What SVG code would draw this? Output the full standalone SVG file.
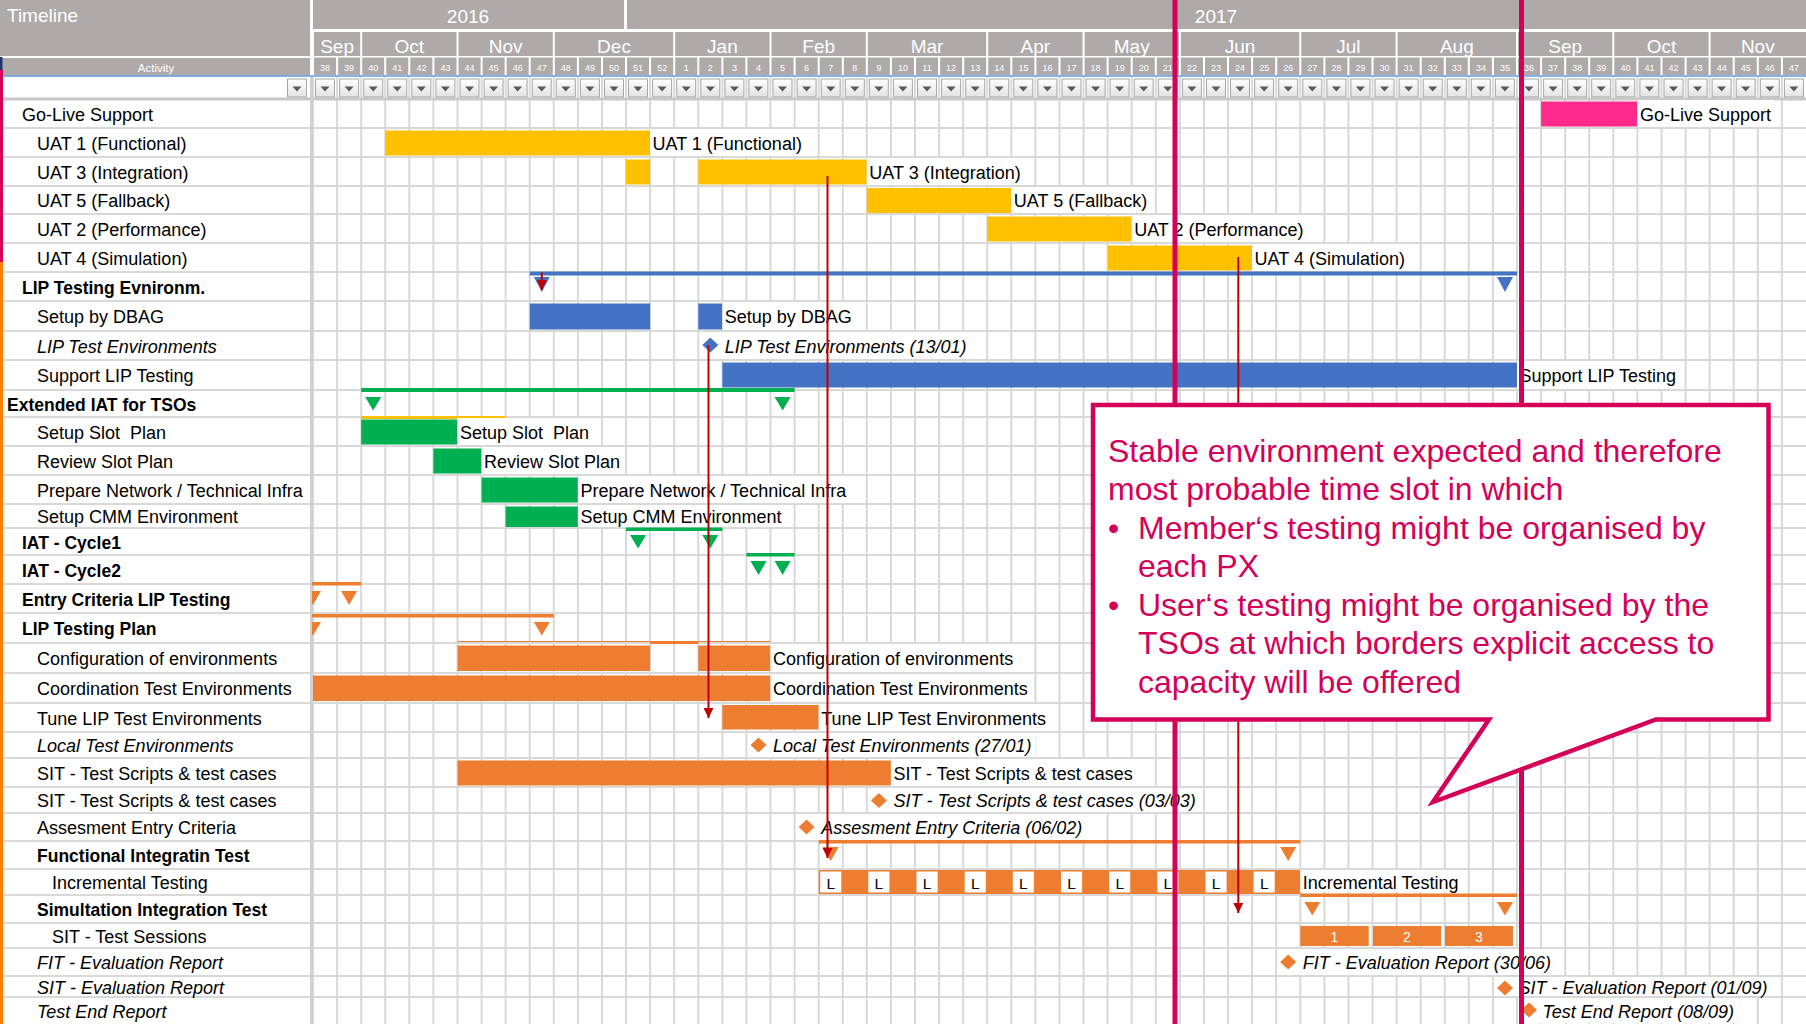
<svg xmlns="http://www.w3.org/2000/svg" xmlns:xlink="http://www.w3.org/1999/xlink" width="1806" height="1024" viewBox="0 0 1806 1024">
<style>
text{font-family:"Liberation Sans",Arial,sans-serif;}
.t{font-size:18px;fill:#000;}
.b{font-size:17.5px;font-weight:bold;fill:#000;}
.i{font-style:italic;}
.hdr{fill:#AEAAAA;}
.ht{fill:#fff;font-size:19px;}
.wk{fill:#fff;font-size:9px;text-anchor:middle;}
.mo{fill:#fff;font-size:19px;text-anchor:middle;}
.yel{fill:#FFC000;}
.blu{fill:#4472C4;}
.grn{fill:#00B050;}
.org{fill:#ED7D31;}
.pnk{fill:#FF2B8C;}
.bg{fill:#fff;}
.arr{stroke:#C00000;stroke-width:2;fill:none;marker-end:url(#ah);}
.crim{stroke:#D50057;stroke-width:5;fill:none;}
.co{font-size:32px;fill:#D50057;}
.L{font-size:15.5px;fill:#000;text-anchor:middle;}
.sn{font-size:14px;fill:#fff;text-anchor:middle;}
</style>
<defs>
<linearGradient id="fbg" x1="0" y1="0" x2="0" y2="1"><stop offset="0" stop-color="#FFFFFF"/><stop offset="1" stop-color="#E2E2E2"/></linearGradient>
<g id="fb"><rect x="2.5" y="79" width="19" height="18" fill="url(#fbg)" stroke="#A6A6A6" stroke-width="1"/><path d="M7.5 86.5h9l-4.5 5z" fill="#595959"/></g>
<path id="vl" d="M313 0V1M337.1 0V1M361.2 0V1M385.2 0V1M409.3 0V1M433.4 0V1M457.5 0V1M481.6 0V1M505.6 0V1M529.7 0V1M553.8 0V1M577.9 0V1M602 0V1M626 0V1M650.1 0V1M674.2 0V1M698.3 0V1M722.4 0V1M746.4 0V1M770.5 0V1M794.6 0V1M818.7 0V1M842.8 0V1M866.8 0V1M890.9 0V1M915 0V1M939.1 0V1M963.2 0V1M987.2 0V1M1011.3 0V1M1035.4 0V1M1059.5 0V1M1083.6 0V1M1107.6 0V1M1131.7 0V1M1155.8 0V1M1179.9 0V1M1204 0V1M1228 0V1M1252.1 0V1M1276.2 0V1M1300.3 0V1M1324.4 0V1M1348.4 0V1M1372.5 0V1M1396.6 0V1M1420.7 0V1M1444.8 0V1M1468.8 0V1M1492.9 0V1M1517 0V1M1541.1 0V1M1565.2 0V1M1589.2 0V1M1613.3 0V1M1637.4 0V1M1661.5 0V1M1685.6 0V1M1709.6 0V1M1733.7 0V1M1757.8 0V1M1781.9 0V1"/>
<marker id="ah" viewBox="0 0 10 10" markerWidth="10" markerHeight="10" refX="10" refY="5" orient="auto" markerUnits="userSpaceOnUse"><path d="M0 0L10 5L0 10z" fill="#C00000"/></marker>
</defs>
<rect x="0" y="0" width="1806" height="1024" fill="#fff"/>

<g id="grid">
<use xlink:href="#vl" href="#vl" transform="translate(0,77) scale(1,947)" stroke="#D9D9D9" stroke-width="2"/>
<path d="M0 128H1806M0 157H1806M0 186H1806M0 214H1806M0 243H1806M0 272H1806M0 301H1806M0 331H1806M0 360H1806M0 390H1806M0 417H1806M0 446H1806M0 475H1806M0 504H1806M0 528H1806M0 555H1806M0 584H1806M0 613H1806M0 643H1806M0 673H1806M0 703H1806M0 732H1806M0 758H1806M0 787H1806M0 813H1806M0 841H1806M0 869H1806M0 895H1806M0 923H1806M0 948H1806M0 976H1806M0 997H1806" stroke="#D9D9D9" stroke-width="2" fill="none"/>
<path d="M0 99H1806" stroke="#C8C8C8" stroke-width="3"/>
<path d="M311.5 77V1024" stroke="#D0D0D0" stroke-width="3"/>
</g>

<g id="header">
<rect class="hdr" x="0" y="0" width="310" height="56"/>
<text class="ht" x="7" y="21.5">Timeline</text>
<rect class="hdr" x="0" y="58" width="310" height="17.5"/>
<text x="156" y="71.5" fill="#fff" font-size="11.5" text-anchor="middle">Activity</text>
<rect class="hdr" x="313" y="0" width="311" height="29"/>
<rect class="hdr" x="627" y="0" width="1179" height="29"/>
<text class="mo" x="468" y="22.5">2016</text>
<text class="mo" x="1216" y="22.5">2017</text>
<rect class="hdr" x="314" y="32" width="46.2" height="24"/>
<rect class="hdr" x="362.2" y="32" width="94.3" height="24"/>
<rect class="hdr" x="458.5" y="32" width="94.3" height="24"/>
<rect class="hdr" x="554.8" y="32" width="118.4" height="24"/>
<rect class="hdr" x="675.2" y="32" width="94.3" height="24"/>
<rect class="hdr" x="771.5" y="32" width="94.3" height="24"/>
<rect class="hdr" x="867.8" y="32" width="118.4" height="24"/>
<rect class="hdr" x="988.2" y="32" width="94.3" height="24"/>
<rect class="hdr" x="1084.6" y="32" width="94.3" height="24"/>
<rect class="hdr" x="1180.9" y="32" width="118.4" height="24"/>
<rect class="hdr" x="1301.3" y="32" width="94.3" height="24"/>
<rect class="hdr" x="1397.6" y="32" width="118.4" height="24"/>
<rect class="hdr" x="1518" y="32" width="94.3" height="24"/>
<rect class="hdr" x="1614.3" y="32" width="94.3" height="24"/>
<rect class="hdr" x="1710.6" y="32" width="95.4" height="24"/>
<text class="mo" x="337.1" y="52.5">Sep</text>
<text class="mo" x="409.3" y="52.5">Oct</text>
<text class="mo" x="505.6" y="52.5">Nov</text>
<text class="mo" x="614" y="52.5">Dec</text>
<text class="mo" x="722.4" y="52.5">Jan</text>
<text class="mo" x="818.7" y="52.5">Feb</text>
<text class="mo" x="927" y="52.5">Mar</text>
<text class="mo" x="1035.4" y="52.5">Apr</text>
<text class="mo" x="1131.7" y="52.5">May</text>
<text class="mo" x="1240.1" y="52.5">Jun</text>
<text class="mo" x="1348.4" y="52.5">Jul</text>
<text class="mo" x="1456.8" y="52.5">Aug</text>
<text class="mo" x="1565.2" y="52.5">Sep</text>
<text class="mo" x="1661.5" y="52.5">Oct</text>
<text class="mo" x="1757.8" y="52.5">Nov</text>
<rect class="hdr" x="313" y="57.5" width="1493" height="17.5"/>
<use xlink:href="#vl" href="#vl" transform="translate(0,57) scale(1,18.5)" stroke="#fff" stroke-width="2"/>
<path d="M0 76H1806" stroke="#5B9BD5" stroke-width="1.5"/>
<text class="wk" x="325" y="71">38</text><text class="wk" x="349.1" y="71">39</text><text class="wk" x="373.2" y="71">40</text><text class="wk" x="397.3" y="71">41</text><text class="wk" x="421.4" y="71">42</text><text class="wk" x="445.4" y="71">43</text><text class="wk" x="469.5" y="71">44</text><text class="wk" x="493.6" y="71">45</text><text class="wk" x="517.7" y="71">46</text><text class="wk" x="541.8" y="71">47</text><text class="wk" x="565.8" y="71">48</text><text class="wk" x="589.9" y="71">49</text><text class="wk" x="614" y="71">50</text><text class="wk" x="638.1" y="71">51</text><text class="wk" x="662.2" y="71">52</text>
<text class="wk" x="686.2" y="71">1</text><text class="wk" x="710.3" y="71">2</text><text class="wk" x="734.4" y="71">3</text><text class="wk" x="758.5" y="71">4</text><text class="wk" x="782.6" y="71">5</text><text class="wk" x="806.6" y="71">6</text><text class="wk" x="830.7" y="71">7</text><text class="wk" x="854.8" y="71">8</text><text class="wk" x="878.9" y="71">9</text><text class="wk" x="903" y="71">10</text><text class="wk" x="927" y="71">11</text><text class="wk" x="951.1" y="71">12</text><text class="wk" x="975.2" y="71">13</text><text class="wk" x="999.3" y="71">14</text><text class="wk" x="1023.4" y="71">15</text><text class="wk" x="1047.4" y="71">16</text><text class="wk" x="1071.5" y="71">17</text><text class="wk" x="1095.6" y="71">18</text><text class="wk" x="1119.7" y="71">19</text><text class="wk" x="1143.8" y="71">20</text><text class="wk" x="1167.8" y="71">21</text><text class="wk" x="1191.9" y="71">22</text><text class="wk" x="1216" y="71">23</text><text class="wk" x="1240.1" y="71">24</text><text class="wk" x="1264.2" y="71">25</text><text class="wk" x="1288.2" y="71">26</text><text class="wk" x="1312.3" y="71">27</text><text class="wk" x="1336.4" y="71">28</text><text class="wk" x="1360.5" y="71">29</text><text class="wk" x="1384.6" y="71">30</text><text class="wk" x="1408.6" y="71">31</text><text class="wk" x="1432.7" y="71">32</text><text class="wk" x="1456.8" y="71">33</text><text class="wk" x="1480.9" y="71">34</text><text class="wk" x="1505" y="71">35</text><text class="wk" x="1529" y="71">36</text><text class="wk" x="1553.1" y="71">37</text><text class="wk" x="1577.2" y="71">38</text><text class="wk" x="1601.3" y="71">39</text><text class="wk" x="1625.4" y="71">40</text><text class="wk" x="1649.4" y="71">41</text><text class="wk" x="1673.5" y="71">42</text><text class="wk" x="1697.6" y="71">43</text><text class="wk" x="1721.7" y="71">44</text><text class="wk" x="1745.8" y="71">45</text><text class="wk" x="1769.8" y="71">46</text><text class="wk" x="1793.9" y="71">47</text>
</g>

<g id="filters">
<use href="#fb" x="285"/>
<use href="#fb" x="313"/><use href="#fb" x="337.1"/><use href="#fb" x="361.2"/><use href="#fb" x="385.2"/><use href="#fb" x="409.3"/><use href="#fb" x="433.4"/><use href="#fb" x="457.5"/><use href="#fb" x="481.6"/><use href="#fb" x="505.6"/><use href="#fb" x="529.7"/><use href="#fb" x="553.8"/><use href="#fb" x="577.9"/><use href="#fb" x="602"/><use href="#fb" x="626"/><use href="#fb" x="650.1"/><use href="#fb" x="674.2"/><use href="#fb" x="698.3"/><use href="#fb" x="722.4"/><use href="#fb" x="746.4"/><use href="#fb" x="770.5"/><use href="#fb" x="794.6"/><use href="#fb" x="818.7"/><use href="#fb" x="842.8"/><use href="#fb" x="866.8"/><use href="#fb" x="890.9"/><use href="#fb" x="915"/><use href="#fb" x="939.1"/><use href="#fb" x="963.2"/><use href="#fb" x="987.2"/><use href="#fb" x="1011.3"/><use href="#fb" x="1035.4"/><use href="#fb" x="1059.5"/><use href="#fb" x="1083.6"/><use href="#fb" x="1107.6"/><use href="#fb" x="1131.7"/><use href="#fb" x="1155.8"/><use href="#fb" x="1179.9"/><use href="#fb" x="1204"/><use href="#fb" x="1228"/><use href="#fb" x="1252.1"/><use href="#fb" x="1276.2"/><use href="#fb" x="1300.3"/><use href="#fb" x="1324.4"/><use href="#fb" x="1348.4"/><use href="#fb" x="1372.5"/><use href="#fb" x="1396.6"/><use href="#fb" x="1420.7"/><use href="#fb" x="1444.8"/><use href="#fb" x="1468.8"/><use href="#fb" x="1492.9"/><use href="#fb" x="1517"/><use href="#fb" x="1541.1"/><use href="#fb" x="1565.2"/><use href="#fb" x="1589.2"/><use href="#fb" x="1613.3"/><use href="#fb" x="1637.4"/><use href="#fb" x="1661.5"/><use href="#fb" x="1685.6"/><use href="#fb" x="1709.6"/><use href="#fb" x="1733.7"/><use href="#fb" x="1757.8"/><use href="#fb" x="1781.9"/>
</g>

<g id="stripe">
<rect x="0" y="57" width="2.5" height="13" fill="#1F3864"/>
<rect x="0" y="70" width="3" height="192" fill="#D50057"/>
<rect x="0" y="262" width="3" height="762" fill="#FF7F00"/>
</g>

<g id="row-go-live">
<text class="t" x="22" y="120.5">Go-Live Support</text>
<rect class="pnk" x="1541.1" y="101.5" width="96.3" height="25"/>
<rect class="bg" x="1637.4" y="100" width="136" height="27"/>
<text class="t" x="1640" y="120.5">Go-Live Support</text>
</g>
<g id="row-uat1">
<text class="t" x="37" y="149.5">UAT 1 (Functional)</text>
<rect class="yel" x="385.2" y="130.5" width="264.9" height="25"/>
<rect class="bg" x="650.1" y="129" width="164" height="27"/>
<text class="t" x="652.5" y="149.5">UAT 1 (Functional)</text>
</g>
<g id="row-uat3">
<text class="t" x="37" y="178.5">UAT 3 (Integration)</text>
<rect class="yel" x="626" y="159.5" width="24.1" height="25"/>
<rect class="yel" x="698.3" y="159.5" width="168.5" height="25"/>
<rect class="bg" x="866.8" y="158" width="160" height="27"/>
<text class="t" x="869.3" y="178.5">UAT 3 (Integration)</text>
</g>
<g id="row-uat5">
<text class="t" x="37" y="207">UAT 5 (Fallback)</text>
<rect class="yel" x="866.8" y="188" width="144.5" height="25"/>
<rect class="bg" x="1011.3" y="187" width="140" height="26"/>
<text class="t" x="1013.8" y="207">UAT 5 (Fallback)</text>
</g>
<g id="row-uat2">
<text class="t" x="37" y="235.5">UAT 2 (Performance)</text>
<rect class="yel" x="987.2" y="216.5" width="144.5" height="25"/>
<rect class="bg" x="1131.7" y="215" width="176" height="27"/>
<text class="t" x="1134.2" y="235.5">UAT 2 (Performance)</text>
</g>
<g id="row-uat4">
<text class="t" x="37" y="264.5">UAT 4 (Simulation)</text>
<rect class="yel" x="1107.6" y="245.5" width="144.5" height="25"/>
<rect class="bg" x="1252.1" y="244" width="157" height="27"/>
<text class="t" x="1254.6" y="264.5">UAT 4 (Simulation)</text>
</g>
<g id="row-lip-env">
<text class="b" x="22" y="293.5">LIP Testing Evnironm.</text>
<rect class="blu" x="529.7" y="271.5" width="987.3" height="4"/>
<polygon class="blu" points="533.8,277 549.8,277 541.8,292"/>
<polygon class="blu" points="1497,277 1513,277 1505,292"/>
</g>
<g id="row-setup-dbag">
<text class="t" x="37" y="323">Setup by DBAG</text>
<rect class="blu" x="529.7" y="303.5" width="120.4" height="26"/>
<rect class="blu" x="698.3" y="303.5" width="24.1" height="26"/>
<rect class="bg" x="722.4" y="302" width="132" height="28"/>
<text class="t" x="724.8" y="323">Setup by DBAG</text>
</g>
<g id="row-lip-test-env">
<text class="t i" x="37" y="352.5">LIP Test Environments</text>
<rect class="bg" x="720" y="332" width="252" height="27"/>
<polygon class="blu" points="710.3,337.5 718.3,345 710.3,352.5 702.3,345"/>
<text class="t i" x="724.8" y="352.5">LIP Test Environments (13/01)</text>
</g>
<g id="row-support-lip">
<text class="t" x="37" y="382">Support LIP Testing</text>
<rect class="blu" x="722.4" y="362.5" width="794.6" height="25"/>
<rect class="bg" x="1517" y="361" width="165" height="28"/>
<text class="t" x="1519.5" y="382">Support LIP Testing</text>
</g>
<g id="row-extended-iat">
<text class="b" x="7" y="410.5">Extended IAT for TSOs</text>
<rect class="grn" x="361.2" y="388" width="433.4" height="4"/>
<polygon class="grn" points="365.2,397 381.2,397 373.2,410.5"/>
<polygon class="grn" points="774.6,397 790.6,397 782.6,410.5"/>
<rect class="yel" x="361.2" y="416" width="144.4" height="3"/>
</g>
<g id="row-setup-slot">
<text class="t" x="37" y="438.5" xml:space="preserve">Setup Slot  Plan</text>
<rect class="grn" x="361.2" y="419.5" width="96.3" height="25"/>
<rect class="bg" x="457.5" y="418" width="134" height="27"/>
<text class="t" x="460" y="438.5" xml:space="preserve">Setup Slot  Plan</text>
</g>
<g id="row-review-slot">
<text class="t" x="37" y="467.5">Review Slot Plan</text>
<rect class="grn" x="433.4" y="448.5" width="48.2" height="25"/>
<rect class="bg" x="481.6" y="447" width="141" height="27"/>
<text class="t" x="484" y="467.5">Review Slot Plan</text>
</g>
<g id="row-prepare-network">
<text class="t" x="37" y="496.5">Prepare Network / Technical Infra</text>
<rect class="grn" x="481.6" y="477.5" width="96.3" height="25"/>
<rect class="bg" x="577.9" y="476" width="273" height="27"/>
<text class="t" x="580.4" y="496.5">Prepare Network / Technical Infra</text>
</g>
<g id="row-setup-cmm">
<text class="t" x="37" y="523">Setup CMM Environment</text>
<rect class="grn" x="505.6" y="506.5" width="72.3" height="20.5"/>
<rect class="bg" x="577.9" y="505" width="215" height="22"/>
<text class="t" x="580.4" y="523">Setup CMM Environment</text>
</g>
<g id="row-iat-cycle1">
<text class="b" x="22" y="548.5">IAT - Cycle1</text>
<rect class="grn" x="626" y="527.5" width="96.4" height="3.5"/>
<polygon class="grn" points="630.1,535 646.1,535 638.1,548.5"/>
<polygon class="grn" points="702.3,535 718.3,535 710.3,548.5"/>
</g>
<g id="row-iat-cycle2">
<text class="b" x="22" y="576.5">IAT - Cycle2</text>
<rect class="grn" x="746.4" y="553" width="48.2" height="3.5"/>
<polygon class="grn" points="750.5,561 766.5,561 758.5,575"/>
<polygon class="grn" points="774.6,561 790.6,561 782.6,575"/>
</g>
<g id="row-entry-criteria">
<text class="b" x="22" y="605.5">Entry Criteria LIP Testing</text>
<rect class="org" x="312" y="582" width="49.2" height="3.5"/>
<polygon class="org" points="312,591 321,591 313,605 312,603.3"/>
<polygon class="org" points="341.1,591 357.1,591 349.1,605"/>
</g>
<g id="row-lip-testing-plan">
<text class="b" x="22" y="635">LIP Testing Plan</text>
<rect class="org" x="312" y="614" width="241.8" height="3.5"/>
<polygon class="org" points="312,622 321,622 313,635.5 312,633.8"/>
<polygon class="org" points="533.8,622 549.8,622 541.8,635.5"/>
</g>
<g id="row-configuration">
<text class="t" x="37" y="665">Configuration of environments</text>
<path d="M457.5 641.5H770.5" stroke="#ED7D31" stroke-width="1.2"/>
<rect class="org" x="650.1" y="641" width="48.2" height="3"/>
<rect class="org" x="457.5" y="645.5" width="192.6" height="25.5"/>
<rect class="org" x="698.3" y="645.5" width="72.2" height="25.5"/>
<rect class="bg" x="770.5" y="644" width="245" height="28"/>
<text class="t" x="773" y="665">Configuration of environments</text>
</g>
<g id="row-coordination">
<text class="t" x="37" y="695">Coordination Test Environments</text>
<rect class="org" x="313" y="675.5" width="457.5" height="25.5"/>
<rect class="bg" x="770.5" y="674" width="262" height="28"/>
<text class="t" x="773" y="695">Coordination Test Environments</text>
</g>
<g id="row-tune">
<text class="t" x="37" y="724.5">Tune LIP Test Environments</text>
<rect class="org" x="722.4" y="705" width="96.3" height="24.5"/>
<rect class="bg" x="818.7" y="704" width="233" height="27"/>
<text class="t" x="821.2" y="724.5">Tune LIP Test Environments</text>
</g>
<g id="row-local">
<text class="t i" x="37" y="752">Local Test Environments</text>
<rect class="bg" x="768" y="733" width="268" height="24"/>
<polygon class="org" points="758.5,737.5 766.5,745 758.5,752.5 750.5,745"/>
<text class="t i" x="773" y="752">Local Test Environments (27/01)</text>
</g>
<g id="row-sit-scripts">
<text class="t" x="37" y="779.5">SIT - Test Scripts &amp; test cases</text>
<rect class="org" x="457.5" y="760.5" width="433.4" height="25"/>
<rect class="bg" x="890.9" y="759" width="247" height="27"/>
<text class="t" x="893.4" y="779.5">SIT - Test Scripts &amp; test cases</text>
</g>
<g id="row-sit-scripts-ms">
<text class="t" x="37" y="807">SIT - Test Scripts &amp; test cases</text>
<rect class="bg" x="889" y="788" width="311" height="24"/>
<polygon class="org" points="878.9,793 886.9,800.5 878.9,808 870.9,800.5"/>
<text class="t i" x="893.4" y="807">SIT - Test Scripts &amp; test cases (03/03)</text>
</g>
<g id="row-assessment">
<text class="t" x="37" y="834">Assesment Entry Criteria</text>
<rect class="bg" x="817" y="814" width="268" height="26"/>
<polygon class="org" points="806.6,819.5 814.6,827 806.6,834.5 798.6,827"/>
<text class="t i" x="821.2" y="834">Assesment Entry Criteria (06/02)</text>
</g>
<g id="row-functional">
<text class="b" x="37" y="862">Functional Integratin Test</text>
<rect class="org" x="818.7" y="840" width="481.6" height="3.5"/>
<polygon class="org" points="822.7,847 838.7,847 830.7,861"/>
<polygon class="org" points="1280.2,847 1296.2,847 1288.2,861"/>
</g>
<g id="row-incremental">
<text class="t" x="52" y="889">Incremental Testing</text>
<rect class="org" x="818.7" y="870" width="481.6" height="24"/>
<rect class="bg" x="820.2" y="871.5" width="21.1" height="21"/><text class="L" x="830.7" y="889">L</text>
<rect class="bg" x="868.3" y="871.5" width="21.1" height="21"/><text class="L" x="878.9" y="889">L</text>
<rect class="bg" x="916.5" y="871.5" width="21.1" height="21"/><text class="L" x="927" y="889">L</text>
<rect class="bg" x="964.7" y="871.5" width="21.1" height="21"/><text class="L" x="975.2" y="889">L</text>
<rect class="bg" x="1012.8" y="871.5" width="21.1" height="21"/><text class="L" x="1023.4" y="889">L</text>
<rect class="bg" x="1061" y="871.5" width="21.1" height="21"/><text class="L" x="1071.5" y="889">L</text>
<rect class="bg" x="1109.1" y="871.5" width="21.1" height="21"/><text class="L" x="1119.7" y="889">L</text>
<rect class="bg" x="1157.3" y="871.5" width="21.1" height="21"/><text class="L" x="1167.8" y="889">L</text>
<rect class="bg" x="1205.5" y="871.5" width="21.1" height="21"/><text class="L" x="1216" y="889">L</text>
<rect class="bg" x="1253.6" y="871.5" width="21.1" height="21"/><text class="L" x="1264.2" y="889">L</text>
<rect class="bg" x="1300.3" y="870" width="163" height="22"/>
<text class="t" x="1302.8" y="888.5">Incremental Testing</text>
</g>
<g id="row-simulation">
<text class="b" x="37" y="916">Simultation Integration Test</text>
<rect class="org" x="1300.3" y="893.5" width="216.7" height="3.5"/>
<polygon class="org" points="1304.3,902 1320.3,902 1312.3,915.5"/>
<polygon class="org" points="1497,902 1513,902 1505,915.5"/>
</g>
<g id="row-sit-sessions">
<text class="t" x="52" y="942.5">SIT - Test Sessions</text>
<rect class="org" x="1300.3" y="926" width="68.4" height="20"/>
<rect class="org" x="1373" y="926" width="68" height="20"/>
<rect class="org" x="1445" y="926" width="68" height="20"/>
<text class="sn" x="1334.5" y="941.5">1</text>
<text class="sn" x="1407" y="941.5">2</text>
<text class="sn" x="1479" y="941.5">3</text>
</g>
<g id="row-fit-eval">
<text class="t i" x="37" y="969">FIT - Evaluation Report</text>
<rect class="bg" x="1298" y="949" width="260" height="26"/>
<polygon class="org" points="1288.2,954.5 1296.2,962 1288.2,969.5 1280.2,962"/>
<text class="t i" x="1302.8" y="969">FIT - Evaluation Report (30/06)</text>
</g>
<g id="row-sit-eval">
<text class="t i" x="37" y="993.5">SIT - Evaluation Report</text>
<rect class="bg" x="1515" y="977" width="262" height="19"/>
<polygon class="org" points="1505,980.5 1513,988 1505,995.5 1497,988"/>
<text class="t i" x="1518.5" y="993.5">SIT - Evaluation Report (01/09)</text>
</g>
<g id="row-test-end">
<text class="t i" x="37" y="1017.5">Test End Report</text>
<rect class="bg" x="1539" y="998" width="200" height="25"/>
<polygon class="org" points="1529,1002.5 1537,1010 1529,1017.5 1521,1010"/>
<text class="t i" x="1542.5" y="1017.5">Test End Report (08/09)</text>
</g>

<g id="connectors">
<path class="arr" d="M541.8 272.5V290"/>
<path class="arr" d="M708.5 345V718"/>
<path class="arr" d="M827.5 176V858"/>
<path class="arr" d="M1238.3 257V913"/>
</g>

<g id="time-markers">
<path class="crim" d="M1175 0V1024"/>
<path class="crim" d="M1521.5 0V1024" stroke-width="4.5"/>
</g>

<g id="callout">
<path d="M1093 405H1768.5V719.5H1656L1433 802L1489 719.5H1093Z" fill="#fff" stroke="#D50057" stroke-width="4.5" stroke-linejoin="miter"/>
<text class="co" x="1108" y="461.5">Stable environment expected and therefore</text>
<text class="co" x="1108" y="500">most probable time slot in which</text>
<text class="co" x="1108" y="538.5">•</text>
<text class="co" x="1138" y="538.5">Member‘s testing might be organised by</text>
<text class="co" x="1138" y="577">each PX</text>
<text class="co" x="1108" y="615.5">•</text>
<text class="co" x="1138" y="615.5">User‘s testing might be organised by the</text>
<text class="co" x="1138" y="654">TSOs at which borders explicit access to</text>
<text class="co" x="1138" y="692.5">capacity will be offered</text>
</g>
</svg>
